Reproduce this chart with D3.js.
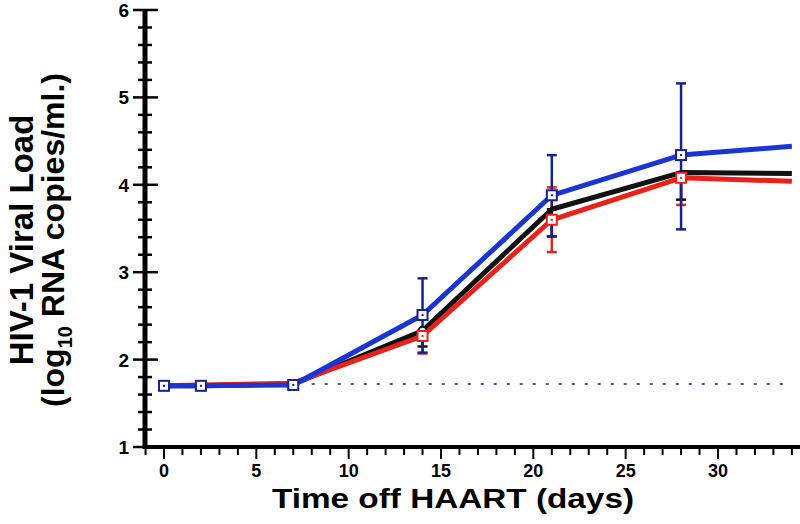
<!DOCTYPE html>
<html><head><meta charset="utf-8">
<script src="https://cdn.jsdelivr.net/npm/d3@7"></script>
<style>body{margin:0;background:#fff}</style></head>
<body><svg id="c" width="800" height="524"></svg>
<script>
const days = [0, 2, 7, 14, 21, 28, 34];
const blueVals = [1.70, 1.70, 1.71, 2.51, 3.88, 4.34, 4.44];
const blackVals = [1.70, 1.70, 1.72, 2.33, 3.72, 4.14, 4.13];
const redVals = [1.70, 1.71, 1.73, 2.27, 3.60, 4.08, 4.04];
const blueMarkerDays = [0, 2, 7, 14, 21, 28];
const redMarkerDays = [14, 21, 28];
// error bars: [day, low, high]
const blueErr = [[14, 2.08, 2.93], [21, 3.41, 4.34], [28, 3.49, 5.16]];
const blackErr = [[14, 2.15, 2.33], [21, 3.41, 3.72], [28, 3.83, 4.14]];
const redErr = [[14, 2.07, 2.27], [21, 3.23, 3.97], [28, 3.77, 4.08]];
const detectLimit = 1.72;
const detectRange = [8, 34];
const xTicks = [0, 5, 10, 15, 20, 25, 30];
const yTicks = [1, 2, 3, 4, 5, 6];

const svg = d3.select("#c");
const x = d3.scaleLinear().domain([0, 30]).range([164, 718]);
const y = d3.scaleLinear().domain([1, 6]).range([447, 10]);
const xMin = x.invert(145), xMax = x.invert(800);

const blueC = "#1b34d6", blueDark = "#16228f", redC = "#e8221b", blackC = "#111";

svg.append("line").attr("x1", x(detectRange[0])).attr("x2", x(detectRange[1])).attr("y1", y(detectLimit)).attr("y2", y(detectLimit))
  .attr("stroke", "#4a5a9a").attr("stroke-width", 2).attr("stroke-dasharray", "3,10");

function errBars(data, color, w) {
  const g = svg.append("g");
  data.forEach(([d, lo, hi]) => {
    g.append("line").attr("x1", x(d)).attr("x2", x(d)).attr("y1", y(lo)).attr("y2", y(hi)).attr("stroke", color).attr("stroke-width", 2.5);
    [lo, hi].forEach(v => g.append("line").attr("x1", x(d) - w).attr("x2", x(d) + w).attr("y1", y(v)).attr("y2", y(v)).attr("stroke", color).attr("stroke-width", 2.5));
  });
}
errBars(redErr, redC, 5);
errBars(blackErr, blackC, 5);
errBars(blueErr, blueDark, 5);

const line = d3.line().x((d, i) => x(days[i])).y(d => y(d));
[[blackVals, blackC], [redVals, redC], [blueVals, blueC]].forEach(([vals, c]) => {
  svg.append("path").datum(vals).attr("d", line).attr("fill", "none").attr("stroke", c).attr("stroke-width", 5).attr("stroke-linejoin", "round");
});

svg.append("circle").attr("cx", x(14)).attr("cy", y(blackVals[3])).attr("r", 4).attr("fill", "#fff").attr("stroke", blackC).attr("stroke-width", 2);

function squares(ds, vals, color) {
  ds.forEach(d => {
    const v = vals[days.indexOf(d)];
    svg.append("rect").attr("x", x(d) - 5).attr("y", y(v) - 5).attr("width", 10).attr("height", 10)
      .attr("fill", "#fff").attr("stroke", color).attr("stroke-width", 2);
    svg.append("rect").attr("x", x(d) - 1).attr("y", y(v) - 1).attr("width", 2).attr("height", 2).attr("fill", color);
  });
}
squares(redMarkerDays, redVals, redC);
squares(blueMarkerDays, blueVals, blueDark);

const yAxisX = 145, xAxisY = 447;
const ax = svg.append("g");
ax.append("line").attr("x1", yAxisX).attr("x2", yAxisX).attr("y1", y(6) - 1).attr("y2", xAxisY + 2).attr("stroke", "#000").attr("stroke-width", 5);
ax.append("line").attr("x1", yAxisX - 2).attr("x2", 800).attr("y1", xAxisY).attr("y2", xAxisY).attr("stroke", "#000").attr("stroke-width", 4);
d3.range(1, 6.001, 0.2).forEach(v => {
  const major = Math.abs(v - Math.round(v)) < 1e-6;
  ax.append("line").attr("x1", yAxisX - (major ? 12 : 7)).attr("x2", yAxisX + (major ? 13 : 7))
    .attr("y1", y(v)).attr("y2", y(v)).attr("stroke", "#000").attr("stroke-width", 2.5);
});
d3.range(Math.ceil(xMin), Math.floor(xMax) + 1).forEach(d => {
  const major = d % 5 === 0;
  ax.append("line").attr("x1", x(d)).attr("x2", x(d)).attr("y1", xAxisY).attr("y2", xAxisY + (major ? 12 : 8)).attr("stroke", "#000").attr("stroke-width", 2);
});
const font = "'Liberation Sans', Arial, sans-serif";
yTicks.forEach(v => ax.append("text").attr("x", 129).attr("y", y(v) + 7).attr("text-anchor", "end")
  .attr("font-family", font).attr("font-weight", "bold").attr("font-size", 19).text(v));
xTicks.forEach(d => ax.append("text").attr("x", x(d)).attr("y", 477).attr("text-anchor", "middle")
  .attr("font-family", font).attr("font-weight", "bold").attr("font-size", 18).text(d));

svg.append("text").attr("x", 453).attr("y", 508).attr("text-anchor", "middle").attr("font-family", font)
  .attr("font-weight", "bold").attr("font-size", 27).attr("textLength", 362).attr("lengthAdjust", "spacingAndGlyphs")
  .text("Time off HAART (days)");

const yl = svg.append("g").attr("transform", "translate(0,240) rotate(-90)");
yl.append("text").attr("x", 0).attr("y", 33).attr("text-anchor", "middle").attr("font-family", font)
  .attr("font-weight", "bold").attr("font-size", 33).text("HIV-1 Viral Load");
const t2 = yl.append("text").attr("x", 0).attr("y", 64).attr("text-anchor", "middle").attr("font-family", font)
  .attr("font-weight", "bold").attr("font-size", 32);
t2.append("tspan").text("(log");
t2.append("tspan").attr("font-size", 20).attr("dy", 8).text("10");
t2.append("tspan").attr("dy", -8).text(" RNA copies/ml.)");
</script></body></html>
